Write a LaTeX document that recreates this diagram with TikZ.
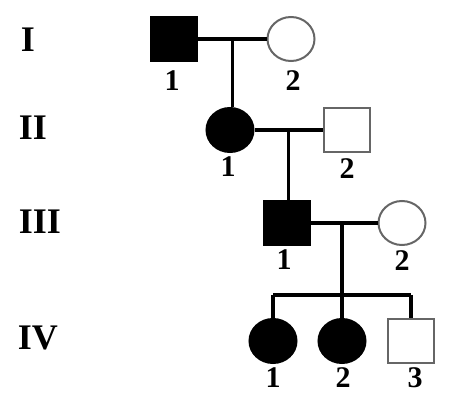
\documentclass[tikz,border=0pt]{standalone}
\usepackage{fontspec}
\setmainfont{Liberation Serif}
\usetikzlibrary{shapes.geometric,calc}
\tikzset{
	male/.style={draw, rectangle, minimum width=46pt, minimum height=44pt, inner sep=0pt, line width=2pt},
	female/.style={draw, ellipse, minimum width=47pt, minimum height=44pt, inner sep=0pt, line width=2pt},
	ill/.style={fill=black, draw=black},
	well/.style={fill=white, draw=black!60},
	gen/.style={font=\bfseries\fontsize{36}{36}\selectfont},
	num/.style={font=\bfseries\fontsize{30}{30}\selectfont},
	link/.style={line width=3.5pt}
}
\begin{document}
\begin{tikzpicture}[x=1pt,y=-1pt]
		\useasboundingbox (0,0) rectangle (467,403);
		% generations
		\node[gen] (gI) at (28,40) {I};
		\node[gen] (gII) at (33,128) {II};
		\node[gen] (gIII) at (40,222) {III};
		\node[gen] (gIV) at (38,338) {IV};
		% people
		\node[male,ill] (p11) at (174,39) {};
		\node[female,well] (p12) at (291,39) {};
		\node[female,ill] (p21) at (230,130) {};
		\node[male,well] (p22) at (347,130) {};
		\node[male,ill] (p31) at (287,223) {};
		\node[female,well] (p32) at (402,223) {};
		\node[female,ill] (p41) at (273,341) {};
		\node[female,ill] (p42) at (342,341) {};
		\node[male,well] (p43) at (411,341) {};
		% numbers
		\node[num] (n11) at (172,81) {1};
		\node[num] (n12) at (293,81) {2};
		\node[num] (n21) at (228,167) {1};
		\node[num] (n22) at (347,169) {2};
		\node[num] (n31) at (284,260) {1};
		\node[num] (n32) at (402,261) {2};
		\node[num] (n41) at (273,378) {1};
		\node[num] (n42) at (343,378) {2};
		\node[num] (n43) at (415,378) {3};
		% lines
		\coordinate (m1) at ($(p11)!0.5!(p12)$);
		\coordinate (m2) at ($(p21)!0.5!(p22)$);
		\coordinate (m3) at (342,223);
		\coordinate (bar) at (342,295);
		\draw[link] (p11) -- (p12);
		\draw[link] (m1) -- (m1 |- p21.north);
		\draw[link] (p21) -- (p22);
		\draw[link] (m2) -- (m2 |- p31.north);
		\draw[link] (p31) -- (p32);
		\draw[link] (m3) -- (bar);
		\draw[link] (p41 |- bar) -- (p43 |- bar);
		\draw[link] (p41 |- bar) -- (p41.north);
		\draw[link] (p42 |- bar) -- (p42.north);
		\draw[link] (p43 |- bar) -- (p43.north);
	\end{tikzpicture}
\end{document}
